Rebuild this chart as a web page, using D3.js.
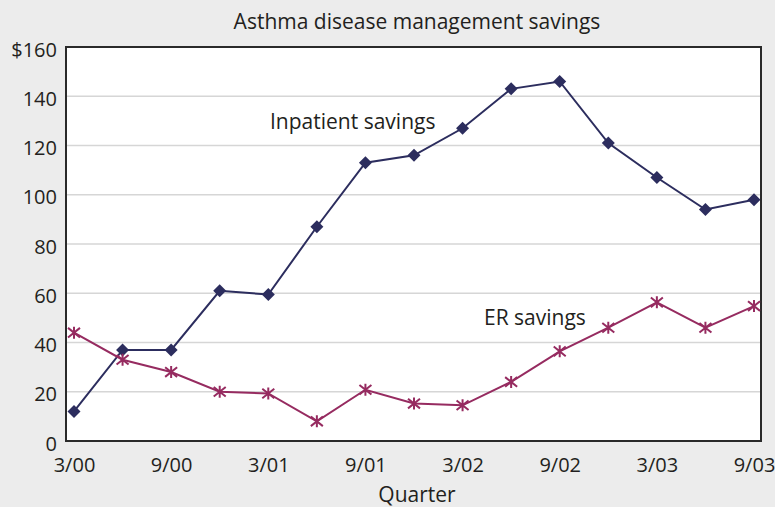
<!DOCTYPE html>
<html><head><meta charset="utf-8">
<script src="https://cdn.jsdelivr.net/npm/d3@7"></script>
<style>
html,body{margin:0;padding:0;background:#ececec;}
svg{display:block;font-family:"Open Sans","Noto Sans",sans-serif;}
</style></head>
<body><svg id="c" width="775" height="507"></svg>
<script>
const quarters = ["3/00","6/00","9/00","12/00","3/01","6/01","9/01","12/01","3/02","6/02","9/02","12/02","3/03","6/03","9/03"];
const tickLabels = ["3/00","9/00","3/01","9/01","3/02","9/02","3/03","9/03"];
const inpatient = [12, 37, 37, 61, 59.5, 87, 113, 116, 127, 143, 146, 121, 107, 94, 98];
const er = [44, 33, 28, 20, 19.3, 8, 20.8, 15.2, 14.5, 24, 36.4, 46, 56.3, 46, 54.8];
const yTicks = [0,20,40,60,80,100,120,140,160];

const svg = d3.select("#c");
const L=66, R=761, T=47, B=441;
const x = d3.scalePoint().domain(quarters).range([74, 754]);
const y = d3.scaleLinear().domain([0,160]).range([B, T]);

svg.append("rect").attr("width",775).attr("height",507).attr("fill","#ececec");
svg.append("rect").attr("x",L).attr("y",T).attr("width",R-L).attr("height",B-T).attr("fill","#fff");

// grid
svg.append("g").selectAll("line").data(yTicks.filter(d=>d>0&&d<160)).join("line")
  .attr("x1",L).attr("x2",R).attr("y1",d=>y(d)).attr("y2",d=>y(d))
  .attr("stroke","#d6d6d6").attr("stroke-width",1.5);

// y axis
const ya = svg.append("g").attr("transform",`translate(${L},0)`)
  .call(d3.axisLeft(y).tickValues(yTicks).tickSize(0).tickPadding(9).tickFormat(d=>d===160?"$160":d));
ya.select(".domain").remove();
ya.selectAll("text").attr("font-size",20).attr("fill","#231f20").attr("font-family","'Open Sans',sans-serif").attr("dy","0.46em");

// x axis
const xa = svg.append("g").attr("transform",`translate(0,${B})`)
  .call(d3.axisBottom(x).tickValues(tickLabels).tickSize(0).tickPadding(17));
xa.select(".domain").remove();
xa.selectAll("text").attr("font-size",20).attr("fill","#231f20").attr("font-family","'Open Sans',sans-serif");

// frame
svg.append("rect").attr("x",L).attr("y",T).attr("width",R-L).attr("height",B-T)
  .attr("fill","none").attr("stroke","#2a2a2a").attr("stroke-width",2);

const line = d3.line().x((d,i)=>x(quarters[i])).y(d=>y(d));
const cIn = "#2c2d5e", cEr = "#962b60";

svg.append("path").datum(inpatient).attr("d",line).attr("fill","none").attr("stroke",cIn).attr("stroke-width",2);
svg.append("path").datum(er).attr("d",line).attr("fill","none").attr("stroke",cEr).attr("stroke-width",2);

// diamonds
svg.append("g").selectAll("path").data(inpatient).join("path")
  .attr("transform",(d,i)=>`translate(${x(quarters[i])},${y(d)})`)
  .attr("d","M0,-6.5L6.5,0L0,6.5L-6.5,0Z").attr("fill",cIn);

// asterisks
const s=6;
svg.append("g").selectAll("path").data(er).join("path")
  .attr("transform",(d,i)=>`translate(${x(quarters[i])},${y(d)})`)
  .attr("d",`M0,${-s}V${s}M${-s},${-s*0.8}L${s},${s*0.8}M${-s},${s*0.8}L${s},${-s*0.8}`)
  .attr("stroke",cEr).attr("stroke-width",2).attr("fill","none");

// texts
svg.append("text").attr("x",417).attr("y",29).attr("text-anchor","middle")
  .attr("font-size",21).attr("fill","#231f20").text("Asthma disease management savings");
svg.append("text").attr("x",270).attr("y",129).attr("font-size",21).attr("fill","#231f20").text("Inpatient savings");
svg.append("text").attr("x",484).attr("y",325).attr("font-size",21).attr("fill","#231f20").text("ER savings");
svg.append("text").attr("x",417).attr("y",502).attr("text-anchor","middle")
  .attr("font-size",21).attr("fill","#231f20").text("Quarter");
</script></body></html>
